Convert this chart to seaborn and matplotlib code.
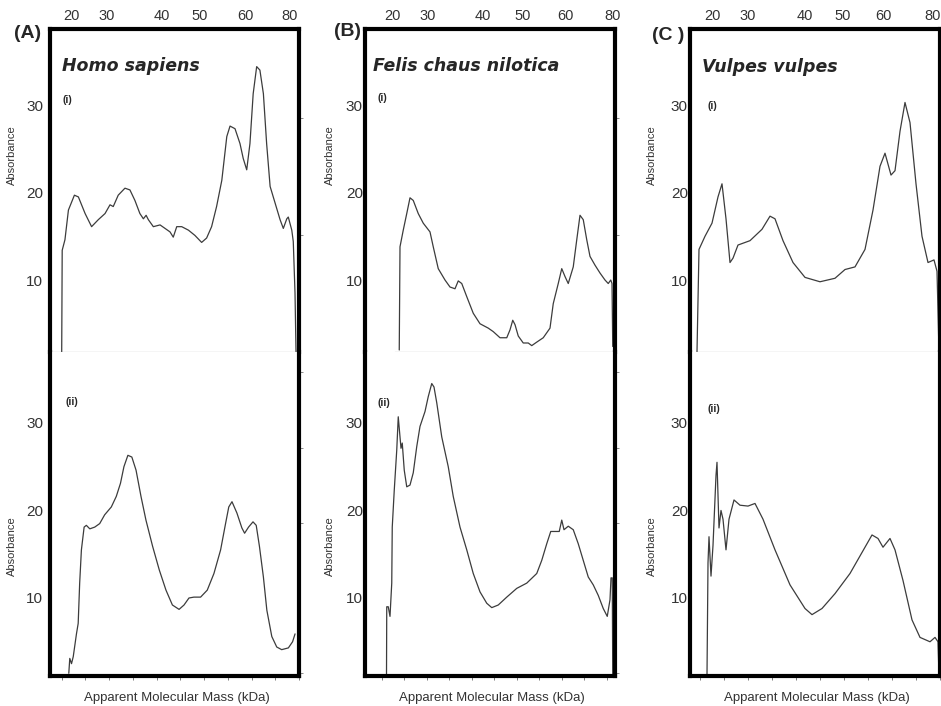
import numpy as np
import pandas as pd
import matplotlib
matplotlib.use("Agg")
import matplotlib.pyplot as plt
import seaborn as sns

# densitometric scans, x = relative migration (% of lane width), y = absorbance
a_top_x = [4.7, 4.9, 6.0, 7.4, 9.8, 11.4, 14.1, 16.7, 19.4, 22.1, 24.1, 25.4, 27.4, 30.1, 32.1, 34.1,
           36.1, 37.5, 38.6, 39.5, 41.5, 44.2, 46.2, 48.2, 49.5, 50.9, 52.9, 55.6, 58.2, 60.9, 62.9,
           64.9, 66.9, 69.0, 71.0, 72.3, 74.3, 76.3, 77.6, 79.0, 80.3, 81.6, 83.0, 84.3, 85.7, 87.0,
           88.4, 90.4, 92.4, 93.7, 95.1, 95.7, 97.1, 97.7, 98.4, 98.8]
a_top_y = [1.8, 13.4, 14.6, 18.0, 19.7, 19.5, 17.6, 16.1, 16.9, 17.6, 18.6, 18.4, 19.7, 20.5, 20.3, 19.1,
           17.6, 17.0, 17.4, 16.9, 16.1, 16.3, 15.9, 15.5, 14.9, 16.1, 16.1, 15.7, 15.1, 14.3, 14.8,
           16.1, 18.4, 21.4, 26.4, 27.6, 27.3, 25.6, 23.9, 22.6, 25.6, 31.3, 34.4, 34.0, 31.3, 25.6,
           20.7, 18.8, 16.9, 15.9, 17.0, 17.2, 15.7, 14.4, 8.5, 1.8]

a_bot_x = [7.6, 8.0, 8.7, 9.4, 10.7, 11.4, 12.0, 12.7, 13.8, 14.7, 16.1, 18.1, 20.1, 22.1, 24.8, 26.8,
           28.5, 29.9, 31.5, 33.1, 34.8, 36.8, 38.8, 41.5, 44.2, 46.9, 49.5, 52.2, 54.2, 56.2, 58.2,
           60.9, 63.6, 66.3, 69.0, 71.0, 72.3, 73.6, 75.6, 77.6, 78.7, 80.3, 82.1, 83.4, 84.7, 86.3,
           87.7, 89.7, 91.7, 93.7, 96.4, 98.1, 99.1]
a_bot_y = [1.4, 3.1, 2.5, 3.3, 5.9, 7.1, 11.7, 15.5, 18.1, 18.3, 17.9, 18.1, 18.5, 19.5, 20.4, 21.6,
           23.1, 25.0, 26.3, 26.1, 24.6, 21.6, 18.9, 15.9, 13.2, 10.9, 9.2, 8.7, 9.2, 10.0, 10.1,
           10.1, 10.9, 12.8, 15.5, 18.5, 20.4, 21.0, 19.7, 18.0, 17.4, 18.1, 18.7, 18.3, 15.9, 12.4,
           8.6, 5.6, 4.4, 4.1, 4.3, 5.0, 5.9]

b_top_x = [13.7, 14.0, 15.3, 16.7, 18.0, 19.3, 21.3, 23.3, 26.0, 27.3, 29.3, 32.0, 34.0, 36.0, 37.3,
           38.7, 40.7, 43.3, 46.0, 49.3, 51.3, 54.0, 56.7, 58.0, 59.1, 60.0, 61.3, 63.3, 65.3, 66.7,
           68.7, 71.3, 74.0, 75.3, 77.3, 78.7, 80.0, 81.3, 83.3, 84.7, 86.0, 87.3, 88.7, 90.0, 92.0,
           94.0, 96.0, 97.3, 98.3, 98.8, 99.1]
b_top_y = [2.0, 13.8, 15.7, 17.6, 19.4, 19.1, 17.6, 16.5, 15.5, 13.8, 11.3, 10.0, 9.2, 9.0, 9.9,
           9.6, 8.1, 6.2, 5.0, 4.5, 4.1, 3.4, 3.4, 4.3, 5.4, 4.9, 3.6, 2.8, 2.8, 2.5,
           2.9, 3.4, 4.5, 7.3, 9.6, 11.3, 10.4, 9.6, 11.5, 14.6, 17.4, 16.9, 14.6, 12.7, 11.7,
           10.8, 10.0, 9.6, 10.0, 9.6, 2.4]

b_bot_x = [8.6, 8.7, 9.3, 10.0, 10.7, 10.9, 11.7, 12.7, 13.3, 14.0, 14.4, 14.9, 15.7, 16.7, 18.0,
           19.3, 20.7, 22.0, 24.0, 25.3, 26.7, 27.6, 28.7, 30.7, 33.3, 35.3, 38.0, 40.7, 43.3, 46.0,
           48.7, 50.7, 53.3, 56.7, 60.7, 64.7, 68.7, 70.7, 72.7, 74.3, 76.0, 77.7, 78.7, 79.6, 81.3,
           83.3, 85.3, 87.3, 89.3, 91.3, 93.3, 95.3, 96.9, 98.0, 98.4, 98.9, 99.1]
b_bot_y = [1.2, 9.0, 9.0, 7.9, 11.7, 18.1, 22.3, 26.9, 30.7, 28.4, 27.1, 27.7, 24.6, 22.7, 22.9,
           24.3, 27.3, 29.6, 31.3, 33.0, 34.5, 34.1, 32.3, 28.4, 25.0, 21.6, 18.1, 15.5, 12.8, 10.7,
           9.4, 8.9, 9.2, 10.1, 11.1, 11.7, 12.8, 14.3, 16.2, 17.6, 17.6, 17.6, 18.9, 17.8, 18.2,
           17.8, 16.2, 14.3, 12.4, 11.5, 10.3, 8.8, 7.9, 9.8, 12.3, 12.3, 1.2]

c_top_x = [2.8, 3.6, 6.0, 8.8, 11.2, 12.8, 14.4, 16.0, 17.2, 19.2, 24.0, 28.8, 32.0, 34.0, 37.2,
           41.2, 46.0, 52.0, 58.0, 62.0, 66.0, 70.0, 73.2, 76.0, 78.0, 80.4, 82.0, 84.0, 86.0, 88.0,
           90.4, 92.8, 95.2, 97.6, 98.8, 99.6]
c_top_y = [1.8, 13.5, 15.0, 16.5, 19.5, 21.0, 17.0, 12.0, 12.5, 14.0, 14.5, 15.8, 17.3, 17.0, 14.5,
           12.0, 10.3, 9.8, 10.2, 11.2, 11.5, 13.5, 18.0, 23.0, 24.5, 22.0, 22.5, 27.0, 30.3, 28.0,
           21.0, 15.0, 12.0, 12.3, 11.0, 1.8]

c_bot_x = [6.8, 7.2, 7.6, 8.4, 9.2, 10.4, 10.8, 11.6, 12.4, 13.2, 14.4, 15.6, 17.6, 20.0, 23.2,
           26.0, 29.2, 34.0, 40.0, 46.0, 48.8, 52.8, 58.0, 64.0, 68.8, 72.8, 75.2, 77.2, 80.0, 82.0,
           85.2, 88.8, 92.0, 96.0, 98.0, 99.2, 99.6]
c_bot_y = [1.2, 14.0, 17.0, 12.5, 16.0, 24.0, 25.5, 18.0, 20.0, 19.0, 15.5, 19.0, 21.2, 20.6, 20.5,
           20.8, 19.0, 15.5, 11.5, 8.8, 8.1, 8.8, 10.5, 12.8, 15.2, 17.2, 16.8, 15.8, 16.8, 15.5,
           12.0, 7.5, 5.5, 5.0, 5.5, 5.0, 1.2]

panel_letters = ["(A)", "(B)", "(C )"]
species = ["Homo sapiens", "Felis chaus nilotica", "Vulpes vulpes"]
mass_labels = ["20", "30", "40", "50", "60", "80"]
mass_pos = [[8.8, 22.9, 45.0, 60.2, 78.3, 96.4],
            [10.8, 25.2, 47.2, 63.2, 80.0, 99.2],
            [8.8, 23.2, 46.0, 61.2, 77.2, 97.2]]
abs_ticks = [10, 20, 30]

curves = [[(a_top_x, a_top_y), (a_bot_x, a_bot_y)],
          [(b_top_x, b_top_y), (b_bot_x, b_bot_y)],
          [(c_top_x, c_top_y), (c_bot_x, c_bot_y)]]

sns.set_style("white")
plt.rcParams["font.family"] = ["Liberation Sans", "DejaVu Sans"]

W, H = 941, 706
fig = plt.figure(figsize=(W / 100, H / 100), dpi=100)


def fx(x):
    return x / W


def fy(y):
    return 1 - y / H


col_left = [50, 365, 690]
col_width = [249, 250, 250]
ytick_pad = [5, 1.5, 1.5]
mid_start = [0, 12, 2.8]
mid_ticks = [(2.7, 9.6), (12.7, 8.7), (2.9, 9.7)]
bot_ticks = [(4.7, 9.6), (6.7, 9.0), (4.0, 9.6)]
right_ticks = [[15.1, 28.5], [1.4, 10.0, 18.6, 27.1, 35.8]]
ylab_x = [17, 335, 657]
ylab_y = [0.61, 0.40]
ink = "#3c3c3c"
thick = 3.0

for c in range(3):
    L, Wd = col_left[c], col_width[c]
    ax_t = fig.add_axes([fx(L), fy(352), Wd / W, (352 - 29) / H])
    ax_b = fig.add_axes([fx(L), fy(676), Wd / W, (676 - 352) / H])

    for k, ax in enumerate([ax_t, ax_b]):
        xs, ys = curves[c][k]
        df = pd.DataFrame({"pos": xs, "absorbance": ys})
        sns.lineplot(data=df, x="pos", y="absorbance", ax=ax, color=ink, lw=0.9,
                     estimator=None, sort=False)
        ax.set_xlim(0, 100)
        ax.set_yticks(abs_ticks)
        ax.set_yticklabels([str(t) for t in abs_ticks], fontsize=11, color="#333333")
        ax.tick_params(axis="y", length=0, pad=ytick_pad[c])
        if c < 2:
            ax.set_yticks(right_ticks[k], minor=True)
            ax.tick_params(axis="y", which="minor", left=False, right=True, length=3,
                           width=0.6, color="#777777", direction="out")
        ax.set_xlabel("")
        ax.set_ylabel("Absorbance", fontsize=8, color="#333333")
        ax.yaxis.set_label_coords((ylab_x[c] - L) / Wd, ylab_y[k])
        for s in ["left", "right"]:
            ax.spines[s].set_linewidth(thick)
            ax.spines[s].set_color("black")

    # top panel: upper frame edge with mass scale, thin baseline below
    ax_t.set_ylim(1.77, 38.7)
    ax_t.spines["top"].set_linewidth(thick)
    ax_t.spines["top"].set_color("black")
    ax_t.spines["bottom"].set_linewidth(0.8)
    ax_t.spines["bottom"].set_color("#555555")
    ax_t.spines["bottom"].set_bounds(mid_start[c], 100)
    ax_t.xaxis.set_ticks_position("top")
    ax_t.set_xticks(mass_pos[c])
    ax_t.set_xticklabels(mass_labels, fontsize=10.5, color="#333333")
    ax_t.tick_params(axis="x", length=0, pad=4)
    s0, st = mid_ticks[c]
    ax_t.set_xticks(np.arange(s0, 100.5, st), minor=True)
    ax_t.tick_params(axis="x", which="minor", bottom=True, top=False, length=2.5,
                     width=0.7, color="#555555", direction="out")

    ax_b.set_ylim(1.09, 38.1)
    ax_b.spines["top"].set_visible(False)
    ax_b.spines["bottom"].set_linewidth(thick)
    ax_b.spines["bottom"].set_color("black")
    s0, st = bot_ticks[c]
    ax_b.set_xticks([])
    ax_b.set_xticks(np.arange(s0, 101, st), minor=True)
    ax_b.tick_params(axis="x", which="minor", bottom=True, length=3, width=0.6,
                     color="#666666", direction="out")
    ax_b.set_xticklabels([], minor=True)

    fig.text(fx(L + Wd / 2 + 2), fy(698), "Apparent Molecular Mass (kDa)", ha="center",
             va="center", fontsize=9.5, color="#333333")

# panel letters, species names and sub-panel tags
letter_xy = [(14, 33), (334, 31), (652, 35)]
title_xy = [(62, 66), (373, 66), (702, 67)]
tag_i_xy = [(63, 100), (378, 98), (708, 106)]
tag_ii_xy = [(66, 402), (377, 403), (707, 409)]
for c in range(3):
    fig.text(fx(letter_xy[c][0]), fy(letter_xy[c][1]), panel_letters[c], ha="left",
             va="center", fontsize=14, fontweight="bold")
    fig.text(fx(title_xy[c][0]), fy(title_xy[c][1]), species[c], ha="left", va="center",
             fontsize=12.5, fontweight="bold", fontstyle="italic",
             family=["DejaVu Sans"])
    fig.text(fx(tag_i_xy[c][0]), fy(tag_i_xy[c][1]), "(i)", ha="left", va="center",
             fontsize=7.5, fontweight="bold")
    fig.text(fx(tag_ii_xy[c][0]), fy(tag_ii_xy[c][1]), "(ii)", ha="left", va="center",
             fontsize=7.5, fontweight="bold")

fig.savefig("out.png", dpi=100)
